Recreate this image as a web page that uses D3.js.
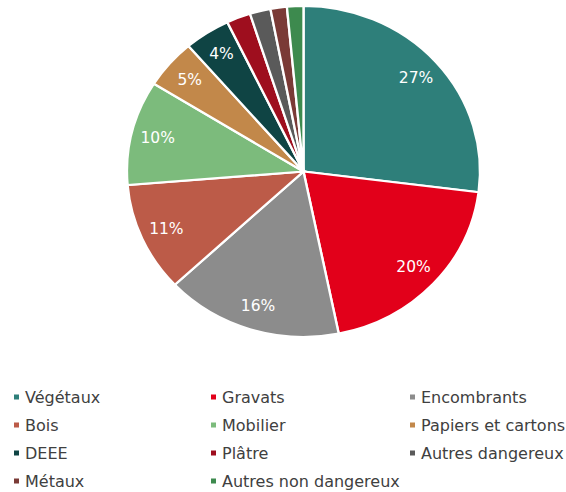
<!DOCTYPE html>
<html><head><meta charset="utf-8">
<script src="https://cdn.jsdelivr.net/npm/d3@7"></script>
<style>body{margin:0;background:#fff}svg{display:block}</style>
</head><body>
<svg id="c" width="566" height="492"></svg>
<script>
const categories = ["Végétaux","Gravats","Encombrants","Bois","Mobilier","Papiers et cartons","DEEE","Plâtre","Autres dangereux","Métaux","Autres non dangereux"];
const values = [27, 19.8, 16.2, 10.7, 10.2, 4.8, 4.2, 2.2, 1.9, 1.5, 1.5];
const colors = ["#2E7F7A","#E2001A","#8C8C8C","#BC5B48","#7CBB7C","#C2884A","#0F4444","#9E0E1E","#5A5A5A","#7A3A36","#3D8A4E"];
const labelMin = 3.5;

const svg = d3.select("#c");
const cx = 303.5, cy = 171.5, rx = 176.5, ry = 165.5;
const sx = rx / ry;
const pie = d3.pie().sort(null).value(d => d.v);
const data = pie(categories.map((c,i)=>({c, v: values[i], col: colors[i]})));
const arc = d3.arc().innerRadius(0).outerRadius(ry);
const g = svg.append("g").attr("transform", `translate(${cx},${cy}) scale(${sx},1)`);
g.selectAll("path").data(data).join("path")
  .attr("d", arc).attr("fill", d => d.data.col)
  .attr("stroke", "#fff").attr("stroke-width", 2.2);
const lab = d3.arc().innerRadius(ry*0.85).outerRadius(ry*0.85);
const total = d3.sum(values);
svg.append("g").selectAll("text").data(data.filter(d => d.data.v >= labelMin)).join("text")
  .attr("x", d => cx + lab.centroid(d)[0]*sx)
  .attr("y", d => cy + lab.centroid(d)[1])
  .attr("text-anchor","middle").attr("dominant-baseline","central")
  .attr("fill","#fff").attr("font-family","DejaVu Sans, Verdana, sans-serif").attr("font-size",15.5)
  .text(d => Math.round(d.data.v / total * 100) + "%");

const colX = [14, 211, 410], rowY = [397, 425, 453, 481];
const leg = svg.append("g").selectAll("g").data(categories).join("g")
  .attr("transform", (d,i) => `translate(${colX[i%3]},${rowY[Math.floor(i/3)]})`);
leg.append("rect").attr("x",0).attr("y",-2.5).attr("width",5).attr("height",5).attr("fill",(d,i)=>colors[i]);
leg.append("text").attr("x",11).attr("y",0).attr("dominant-baseline","central")
  .attr("font-family","DejaVu Sans, Verdana, sans-serif").attr("font-size",16).attr("fill","#404040")
  .text(d => d);
</script>
</body></html>
